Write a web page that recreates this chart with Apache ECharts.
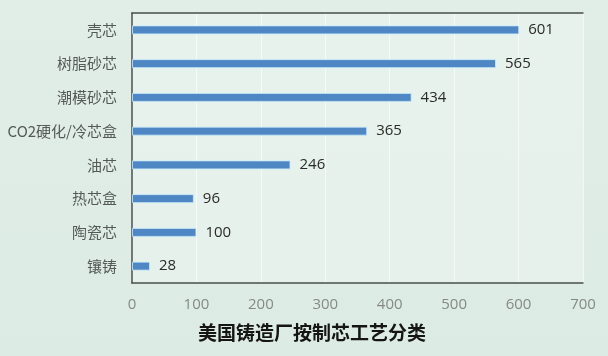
<!DOCTYPE html>
<html>
<head>
<meta charset="utf-8">
<script src="https://cdn.jsdelivr.net/npm/echarts@6/dist/echarts.min.js"></script>
<style>
  html, body { margin: 0; padding: 0; }
  body { background: linear-gradient(180deg, #e1eee8 0%, #dcebe3 100%); }
  #chart { width: 608px; height: 356px; }
</style>
</head>
<body>
<div id="chart"></div>
<script>
// Core-making process categories (bottom to top as drawn)
const categories = ['镶铸', '陶瓷芯', '热芯盒', '油芯', 'CO2硬化/冷芯盒', '潮模砂芯', '树脂砂芯', '壳芯'];
const foundryCounts = [28, 100, 96, 246, 365, 434, 565, 601];
const xTicks = { min: 0, max: 700, interval: 100 };
const chartTitle = '美国铸造厂按制芯工艺分类';

const chart = echarts.init(document.getElementById('chart'), null, { renderer: 'canvas' });

chart.setOption({
  backgroundColor: 'transparent',
  animation: false,
  title: {
    text: chartTitle,
    left: 198,
    top: 323,
    padding: 0,
    textStyle: { color: '#151515', fontSize: 19, fontWeight: 'bold', fontFamily: 'Noto Sans CJK SC' }
  },
  grid: {
    left: 132, right: 25, top: 13, bottom: 73,
    show: true, backgroundColor: 'rgba(236,245,240,0.55)', borderWidth: 0
  },
  xAxis: [{
    type: 'value',
    min: xTicks.min, max: xTicks.max, interval: xTicks.interval,
    position: 'bottom',
    axisLine: { show: true, lineStyle: { color: '#4a4f4c', width: 1.5 } },
    axisTick: { show: false },
    splitLine: { show: true, lineStyle: { color: 'rgba(255,255,255,0.6)', width: 1 } },
    axisLabel: { color: '#858a87', fontSize: 15, fontFamily: 'Open Sans', margin: 14 }
  }, {
    type: 'value',
    min: xTicks.min, max: xTicks.max, interval: xTicks.interval,
    position: 'top',
    axisLine: { show: true, lineStyle: { color: '#4a4f4c', width: 1.5 } },
    axisTick: { show: false },
    axisLabel: { show: false },
    splitLine: { show: false }
  }],
  yAxis: [{
    type: 'category',
    data: categories,
    axisLine: { show: false },
    axisTick: { show: false },
    axisLabel: { color: '#555a57', fontSize: 15, fontFamily: 'Noto Sans CJK SC', margin: 15 }
  }, {
    type: 'category',
    data: categories,
    position: 'right',
    axisLine: { show: true, lineStyle: { color: '#4a4f4c', width: 1.5 } },
    axisTick: { show: false },
    axisLabel: { show: false }
  }],
  series: [{
    type: 'bar',
    data: foundryCounts,
    barWidth: 9,
    itemStyle: { color: '#4f86c4', borderColor: 'rgba(200,235,250,0.8)', borderWidth: 1 },
    label: {
      show: true,
      position: 'right',
      distance: 9,
      color: '#2a2a2a',
      fontSize: 15,
      fontFamily: 'Open Sans'
    }
  }]
});
</script>
</body>
</html>
